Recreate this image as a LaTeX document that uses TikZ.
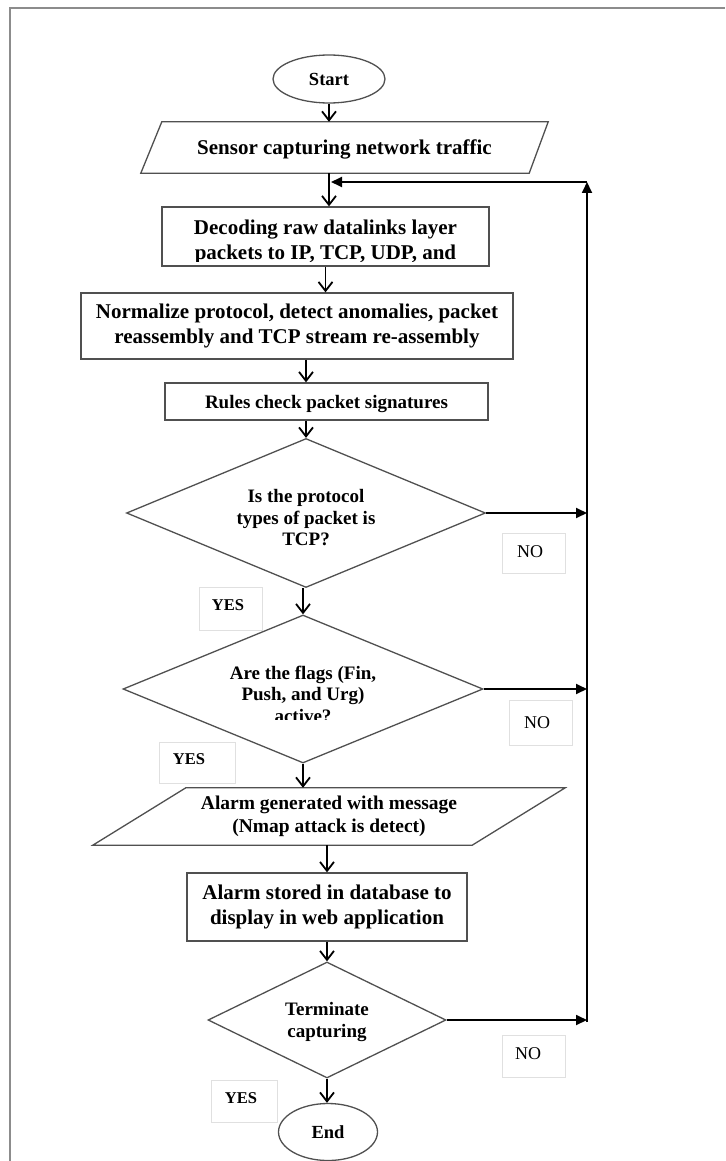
\documentclass[tikz,border=0pt]{standalone}
\usepackage{fontspec}
\setmainfont{Liberation Serif}
\usetikzlibrary{arrows.meta,shapes.geometric}
\definecolor{edgegray}{HTML}{505050}
\definecolor{framegray}{HTML}{8C8C8C}
\definecolor{tagline}{HTML}{E0E0E0}
\tikzset{
  flowline/.style={draw=edgegray, line width=1.3pt, inner sep=0pt},
  procbox/.style={flowline, rectangle},
  decision/.style={flowline, diamond},
  terminal/.style={flowline, ellipse, font=\fontsize{18.5}{21}\selectfont\bfseries},
  holder/.style={rectangle, inner sep=0pt},
  txt/.style={font=\fontsize{21}{24.5}\selectfont\bfseries, align=center, inner sep=0pt},
  dtxt/.style={font=\fontsize{19}{21.5}\selectfont\bfseries, align=center, inner sep=0pt},
  down/.style={draw=black, line width=1.8pt, -{Straight Barb[length=9pt,width=14pt]}},
  feed/.style={draw=black, line width=1.8pt, -{Triangle[length=11pt,width=10pt]}},
  tagbox/.style={draw=tagline, line width=0.9pt, inner sep=0pt},
  tagno/.style={font=\fontsize{18}{20}\selectfont, inner sep=0pt},
  tagyes/.style={font=\fontsize{16.5}{20}\selectfont\bfseries, inner sep=0pt},
}
\begin{document}
\begin{tikzpicture}[x=1pt,y=-1pt]
\useasboundingbox (0,0) rectangle (725,1161);
\fill[white] (0,0) rectangle (725,1161);
% page frame
\draw[framegray, line width=2.4pt] (10,1161) -- (10,8) -- (725,8);

% terminals
\node[terminal, minimum width=112, minimum height=48] (start) at (329,79) {Start};
\node[terminal, minimum width=99, minimum height=57] (stop) at (328,1132) {End};

% input: sensor
\node[holder, minimum width=407, minimum height=51, txt, text height=14pt, text depth=0pt] (sensor) at (344.5,147.5) {Sensor capturing network traffic};
\draw[flowline] ([xshift=21pt]sensor.north west) -- (sensor.north east)
  -- ([xshift=-19pt]sensor.south east) -- (sensor.south west) -- cycle;

% decoding (text cut by its box)
\begin{scope}
  \clip (162,207) rectangle (489,261);
  \node[txt] (decodtxt) at (325.5,242) {Decoding raw datalinks layer\\packets to IP, TCP, UDP, and};
\end{scope}
\node[procbox, minimum width=327, minimum height=59] (decod) at (325.5,236.5) {};

\node[procbox, txt, minimum width=432, minimum height=66] (norm) at (297,326) {Normalize protocol, detect anomalies, packet\\reassembly and TCP stream re-assembly};

\node[procbox, dtxt, minimum width=323, minimum height=37, text height=13pt, text depth=0pt] (rules) at (326.5,401.5) {Rules check packet signatures};

% decision 1
\node[decision, minimum width=359, minimum height=149] (d1) at (306,513) {};
\node[dtxt] (d1txt) at (306,518) {Is the protocol\\types of packet is\\TCP?};

% decision 2 (last line cut)
\node[decision, minimum width=360, minimum height=148] (d2) at (303,689) {};
\begin{scope}
  \clip (150,640) rectangle (460,719.5);
  \node[dtxt] (d2txt) at (303,694) {Are the flags (Fin,\\Push, and Urg)\\active?};
\end{scope}

% output: alarm
\node[holder, minimum width=472, minimum height=57, font=\fontsize{19.5}{23}\selectfont\bfseries, align=center] (alarm) at (329,816.5) {Alarm generated with message\\(Nmap attack is detect)};
\draw[flowline] ([xshift=93pt]alarm.north west) -- (alarm.north east)
  -- ([xshift=-93pt]alarm.south east) -- (alarm.south west) -- cycle;

\node[procbox, txt, minimum width=280, minimum height=68] (stored) at (327,907) {Alarm stored in database to\\display in web application};

% decision 3
\node[decision, minimum width=238, minimum height=116] (d3) at (327,1020) {};
\node[dtxt] (d3txt) at (327,1022) {Terminate\\capturing};

% main flow
\draw[down] (start.south) -- (start.south |- sensor.north);
\draw[down] (start.south |- sensor.south) -- (start.south |- decod.north);
\draw[down] (decod.south) -- (decod.south |- norm.north);
\draw[down] (d1.north |- norm.south) -- (d1.north |- rules.north);
\draw[down] (d1.north |- rules.south) -- (d1.north);
\draw[down] (d2.north |- d1.south) -- (d2.north);
\draw[down] (d2.south) -- (d2.south |- alarm.north);
\draw[down] (stored.north |- alarm.south) -- (stored.north);
\draw[down] (stored.south) -- (stored.south |- d3.north);
\draw[down] (d3.south) -- (d3.south |- stop.north);

% loop back to decoding
\coordinate (loopbot) at (587,1022);
\coordinate (looptop) at (587,182);
\coordinate (loopjoin) at (331,182);
\draw[feed] (d1.east) -- (d1.east -| loopbot);
\draw[feed] (d2.east) -- (d2.east -| loopbot);
\draw[feed] (d3.east) -- (d3.east -| loopbot);
\draw[feed] (loopbot) -- (looptop);
\draw[feed] (looptop) -- (loopjoin);

% branch labels
\node[tagbox, minimum width=63, minimum height=40] (nobox1) at (533.5,553) {};
\node[tagno] (no1) at (530,552) {NO};
\node[tagbox, minimum width=63, minimum height=43] (yesbox1) at (230.5,608.5) {};
\node[tagyes] (yes1) at (228,605) {YES};
\node[tagbox, minimum width=63, minimum height=45] (nobox2) at (540.5,722.5) {};
\node[tagno] (no2) at (537,723) {NO};
\node[tagbox, minimum width=76, minimum height=41] (yesbox2) at (197,762.5) {};
\node[tagyes] (yes2) at (189,759) {YES};
\node[tagbox, minimum width=63, minimum height=42] (nobox3) at (533.5,1056) {};
\node[tagno] (no3) at (528,1054) {NO};
\node[tagbox, minimum width=66, minimum height=42] (yesbox3) at (244,1101) {};
\node[tagyes] (yes3) at (241,1098) {YES};
\end{tikzpicture}
\end{document}
